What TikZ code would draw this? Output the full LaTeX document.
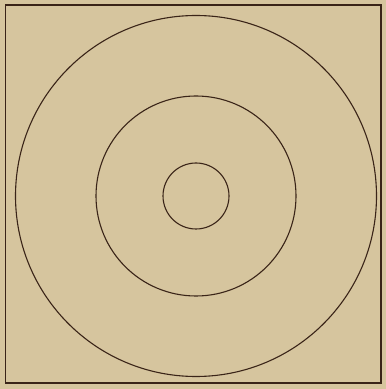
\documentclass[tikz,border=0pt]{standalone}
\definecolor{paper}{RGB}{214,197,158}
\definecolor{ink}{RGB}{58,36,24}
\begin{document}
\begin{tikzpicture}[x=1pt,y=1pt,
  ring/.style={draw=ink,line width=1.1pt},
  frame/.style={draw=ink,line width=1.3pt}]
\fill[paper] (0,0) rectangle (386,389);
\useasboundingbox (0,0) rectangle (386,389);
\draw[frame] (5.5,384) rectangle (381,6);
\coordinate (c) at (196,193);
\draw[ring] (c) circle[radius=180.5];
\draw[ring] (c) circle[radius=100];
\draw[ring] (c) circle[radius=33];
\end{tikzpicture}
\end{document}
